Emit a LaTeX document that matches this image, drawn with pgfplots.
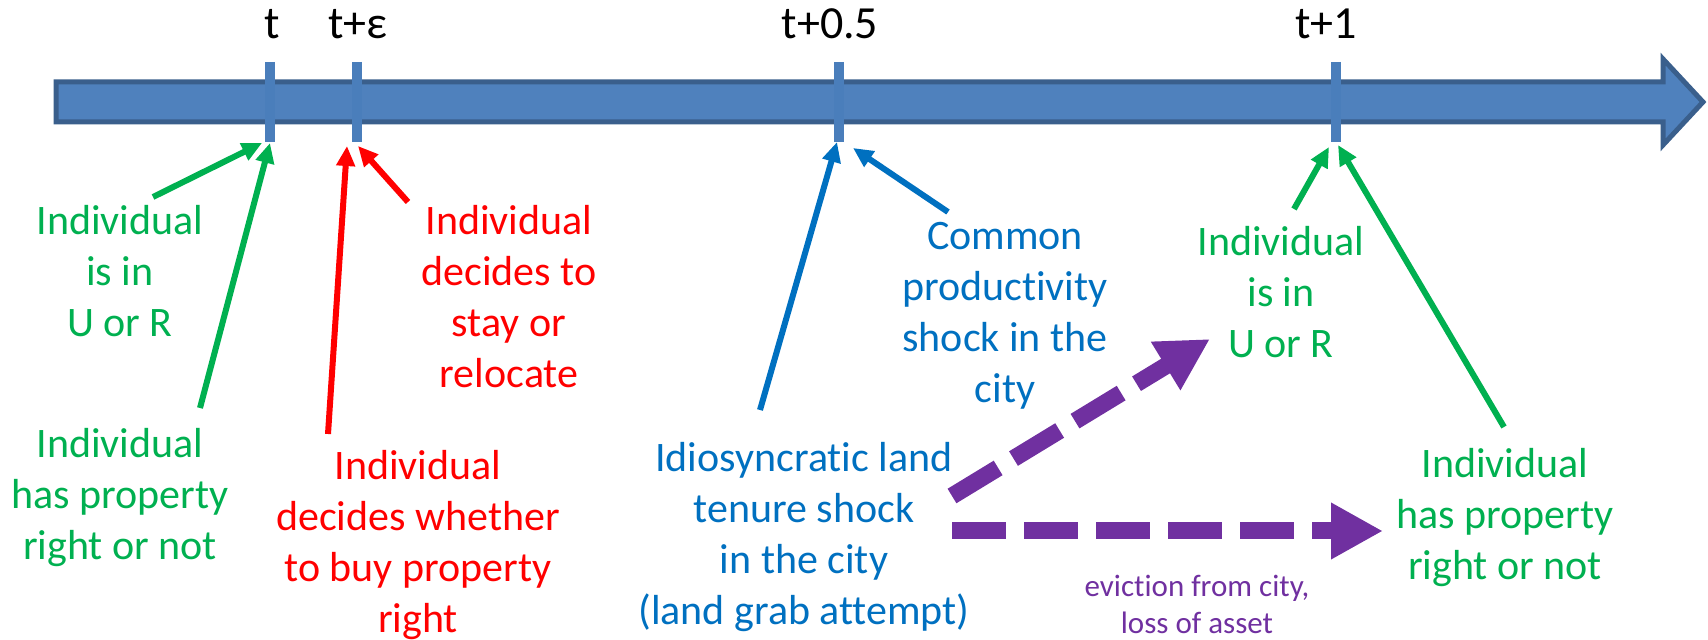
\documentclass[border=0pt]{standalone}
\usepackage{pgfplots}
\pgfplotsset{compat=1.18}
\usepackage{fontspec}
\setmainfont{Carlito}[Ligatures=NoCommon]
\usetikzlibrary{arrows.meta}
\definecolor{cgreen}{HTML}{00B050}
\definecolor{cred}{HTML}{FF0000}
\definecolor{cblue}{HTML}{0070C0}
\definecolor{cpurple}{HTML}{7030A0}
\definecolor{afill}{HTML}{4F81BD}
\definecolor{aline}{HTML}{3A5F8C}
\definecolor{tickc}{HTML}{4A7EBB}
\newcommand{\bodyfont}{\fontsize{21}{25.5}\selectfont}
\begin{document}
\begin{tikzpicture}
\begin{axis}[
  width=854pt, height=320pt, scale only axis,
  xmin=0, xmax=1708, ymin=0, ymax=640, y dir=reverse,
  hide axis, clip=false]
\coordinate (BL) at (axis cs:0,640);
\coordinate (TR) at (axis cs:1708,0);
% main timeline arrow
\addplot[fill=afill, draw=aline, line width=2.5pt, line join=miter]
  coordinates {(56,82) (1663,82) (1663,59) (1703,102) (1663,145) (1663,122) (56,122)} -- cycle;
% ticks
\addplot[tickc, line width=5pt] coordinates {(270,62) (270,142)};
\addplot[tickc, line width=5pt] coordinates {(357,62) (357,142)};
\addplot[tickc, line width=5pt] coordinates {(839,62) (839,142)};
\addplot[tickc, line width=5pt] coordinates {(1336,62) (1336,142)};
% tick labels
\node[anchor=base, font=\fontsize{23}{27}\selectfont] at (axis cs:272,39) {t};
\node[anchor=base, font=\fontsize{23}{27}\selectfont] at (axis cs:358,39) {t+ε};
\node[anchor=base, font=\fontsize{23}{27}\selectfont] at (axis cs:830,39) {t+0.5};
\node[anchor=base, font=\fontsize{23}{27}\selectfont] at (axis cs:1326,39) {t+1};
% thin arrows
\addplot[cgreen, line width=3pt, -{Triangle[length=10pt,width=9pt]}] coordinates {(153,197) (262,143)};
\addplot[cgreen, line width=3pt, -{Triangle[length=10pt,width=9pt]}] coordinates {(200,408) (270,143)};
\addplot[cred, line width=3pt, -{Triangle[length=10pt,width=9pt]}] coordinates {(328,434) (347,146)};
\addplot[cred, line width=3pt, -{Triangle[length=10pt,width=9pt]}] coordinates {(408,202) (358,146)};
\addplot[cblue, line width=3pt, -{Triangle[length=10pt,width=9pt]}] coordinates {(760,410) (837,142)};
\addplot[cblue, line width=3pt, -{Triangle[length=10pt,width=9pt]}] coordinates {(948,212) (853,148)};
\addplot[cgreen, line width=3pt, -{Triangle[length=10pt,width=9pt]}] coordinates {(1294,209) (1329,147)};
\addplot[cgreen, line width=3pt, -{Triangle[length=10pt,width=9pt]}] coordinates {(1504,427) (1338,145)};
% purple dashed arrows
\addplot[cpurple, line width=8.5pt, line cap=butt, dash pattern=on 27pt off 9pt, -{Triangle[length=26pt,width=26.5pt]}] coordinates {(952,496) (1210,339)};
\addplot[cpurple, line width=8.5pt, line cap=butt, dash pattern=on 27pt off 9pt, -{Triangle[length=26pt,width=26.5pt]}] coordinates {(952,531) (1383,531)};
% texts
\node[align=center, text=cgreen, font=\bodyfont] at (axis cs:120,271) {Individual\\is in\\U or R};
\node[align=center, text=cgreen, font=\bodyfont] at (axis cs:120,498) {Individual\\has property\\right or not};
\node[align=center, text=cred, font=\bodyfont] at (axis cs:509,297) {Individual\\decides to\\stay or\\relocate};
\node[align=center, text=cred, font=\bodyfont] at (axis cs:418,545) {Individual\\decides whether\\to buy property\\right};
\node[align=center, text=cblue, font=\bodyfont] at (axis cs:1005,316) {Common\\productivity\\shock in the\\city};
\node[align=center, text=cblue, font=\bodyfont] at (axis cs:804,537) {Idiosyncratic land\\tenure shock\\in the city\\(land grab attempt)};
\node[align=center, text=cgreen, font=\bodyfont] at (axis cs:1281,292) {Individual\\is in\\U or R};
\node[align=center, text=cgreen, font=\bodyfont] at (axis cs:1505,518) {Individual\\has property\\right or not};
\node[align=center, text=cpurple, font=\fontsize{15.5}{18.5}\selectfont] at (axis cs:1197,604) {eviction from city,\\loss of asset};
\end{axis}
\pgfresetboundingbox
\useasboundingbox (BL) rectangle (TR);
\end{tikzpicture}
\end{document}
